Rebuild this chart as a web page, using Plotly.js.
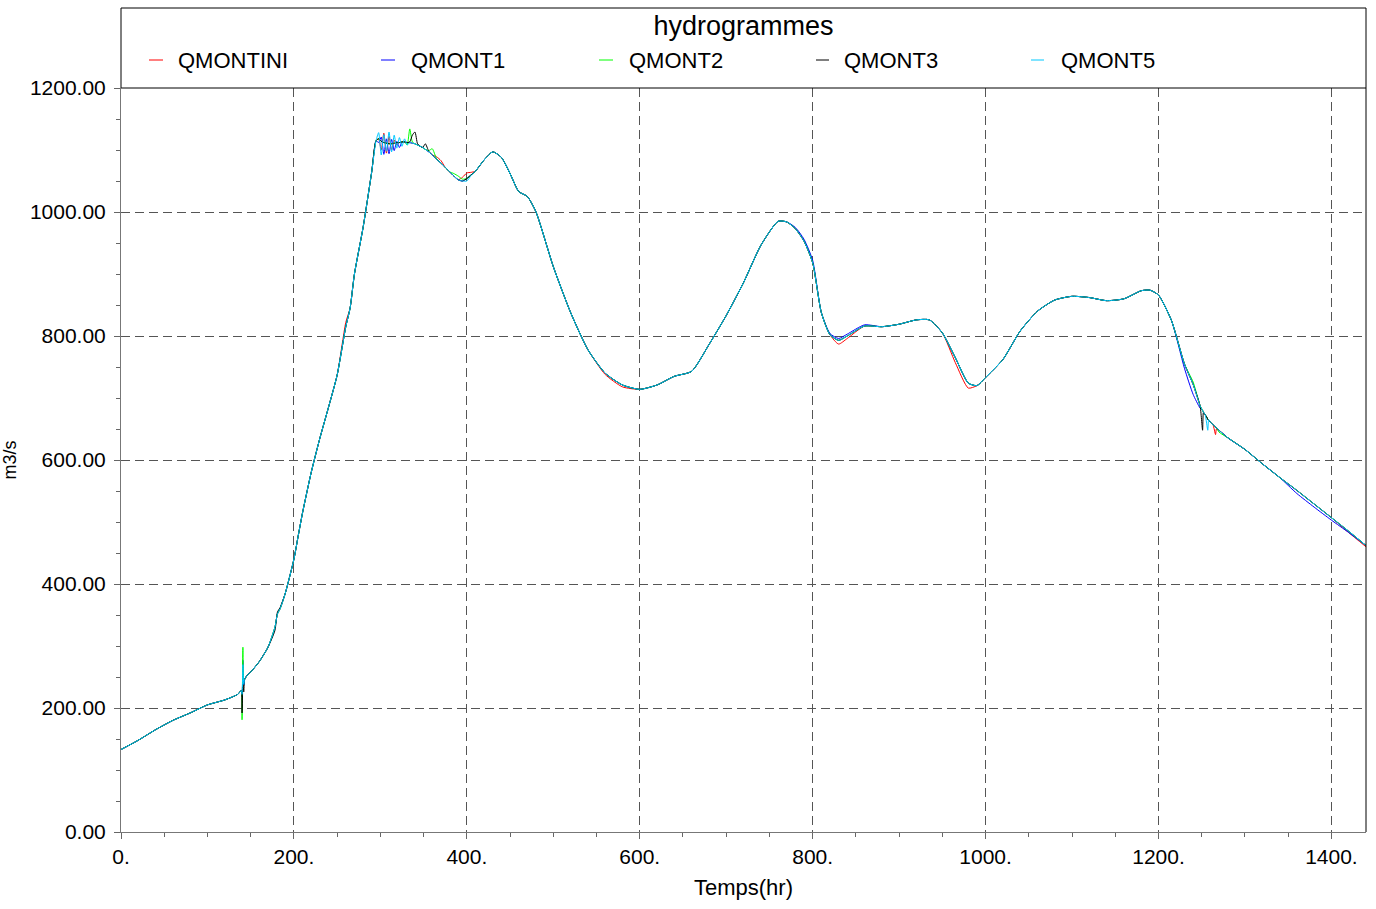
<!DOCTYPE html>
<html>
<head>
<meta charset="utf-8">
<script src="https://cdn.plot.ly/plotly-3.0.1.min.js"></script>
<style>html,body{margin:0;padding:0;background:#fff;}</style>
</head>
<body>
<div id="chart" style="width:1376px;height:909px;"></div>
<script>
// ---- data ----
var chartTitle = 'hydrogrammes';
var xTitle = 'Temps(hr)';
var yTitle = 'm3/s';
var seriesNames = ['QMONTINI', 'QMONT1', 'QMONT2', 'QMONT3', 'QMONT5'];
var seriesColors = ['#ff0000', '#0000ff', '#00ff00', '#000000', '#00c8ff'];

var hours = [0,20,40,60,80,100,120,135,139,140,
  141,142,143,146,150,160,170,178,181,184,
  190,200,205,210,220,230,240,250,260,265,
  270,280,290,295,298,301,304,307,310,313,
  316,319,322,325,328,331,334,337,340,343,
  346,349,352,356,360,365,370,375,380,385,
  390,395,400,405,410,420,430,440,450,460,
  470,480,500,520,540,560,580,600,620,640,
  660,680,700,720,740,760,770,780,790,800,
  810,820,830,840,860,880,900,920,935,950,
  965,980,990,1000,1020,1040,1060,1080,1100,1120,
  1140,1160,1180,1190,1200,1215,1230,1240,1248,1251,
  1252,1254,1257,1258,1260,1263,1266,1267,1270,1280,
  1300,1320,1340,1360,1380,1400,1420,1440];

var qmontini = [133,148,165,180,192,205,213,222,228,224,
  236,241,246,253,258,275,298,330,352,360,
  385,440,478,515,580,635,685,737,822,845,
  900,975,1065,1115,1118,1100,1127,1095,1122,1100,
  1116,1108,1112,1113,1113,1112,1112,1111,1110,1108,
  1106,1104,1101,1097,1092,1089,1083,1072,1065,1058,
  1052,1056,1063,1064,1066,1084,1097,1088,1062,1033,
  1025,1000,912,838,778,738,718,714,721,735,
  743,786,833,886,946,985,984,973,953,918,
  838,802,787,796,816,815,819,826,826,805,
  757,716,720,733,762,808,840,858,864,862,
  857,860,873,874,866,825,755,722,688,680,
  677,673,666,664,661,657,641,650,648,636,
  617,594,572,551,529,507,483,460];

var qmont1 = [133,148,165,180,192,205,213,222,228,226,
  277,237,246,253,258,275,298,330,352,360,
  385,440,478,515,580,635,685,737,815,845,
  900,975,1065,1115,1112,1121,1093,1118,1094,1117,
  1099,1114,1104,1113,1113,1112,1112,1111,1110,1108,
  1106,1104,1101,1097,1092,1085,1079,1072,1065,1058,
  1052,1050,1054,1060,1066,1084,1097,1088,1062,1033,
  1025,1000,912,838,778,740,721,714,721,735,
  743,786,833,886,946,985,984,975,956,922,
  838,804,796,803,818,815,819,826,826,805,
  765,724,720,733,762,808,840,858,864,862,
  857,860,873,874,866,825,748,706,684,680,
  677,673,666,664,661,657,653,652,648,636,
  617,594,572,546,524,503,483,462];

var qmont2 = [133,148,165,180,192,205,213,222,228,181,
  298,245,246,253,258,275,298,330,352,360,
  385,440,478,515,580,635,685,737,815,845,
  900,975,1065,1115,1118,1114,1112,1111,1110,1110,
  1111,1112,1112,1113,1113,1108,1134,1113,1110,1108,
  1106,1104,1101,1099,1102,1086,1079,1072,1065,1062,
  1058,1053,1054,1060,1066,1084,1097,1088,1062,1033,
  1025,1000,912,838,778,740,721,714,721,735,
  743,786,833,886,946,985,984,973,953,918,
  838,802,793,800,816,815,819,826,826,805,
  765,724,720,733,762,808,840,858,864,862,
  857,860,873,874,866,825,755,726,688,680,
  677,673,666,664,661,657,653,652,645,636,
  617,594,572,551,529,507,485,462];

var qmont3 = [133,148,165,180,192,205,213,222,228,192,
  240,226,246,253,258,275,298,325,355,362,
  385,440,478,515,580,635,685,737,815,845,
  900,975,1065,1115,1118,1114,1112,1111,1110,1110,
  1111,1112,1112,1113,1113,1112,1113,1124,1129,1110,
  1106,1104,1110,1098,1092,1085,1079,1072,1065,1058,
  1052,1050,1054,1060,1066,1084,1097,1088,1062,1033,
  1025,1000,912,838,778,740,721,714,721,735,
  743,786,833,886,946,985,984,973,953,918,
  838,802,793,800,816,815,819,826,826,805,
  765,724,720,733,762,808,840,858,864,862,
  857,860,873,874,866,825,755,722,688,648,
  677,673,666,664,661,657,653,652,648,636,
  617,594,572,551,529,507,485,462];

var qmont5 = [133,148,165,180,192,205,213,222,228,222,
  270,238,246,253,258,275,298,330,352,360,
  385,440,478,515,580,635,685,737,815,845,
  900,975,1065,1115,1128,1092,1125,1098,1129,1097,
  1124,1103,1120,1106,1118,1108,1112,1111,1110,1108,
  1106,1104,1101,1097,1092,1085,1079,1072,1065,1058,
  1052,1050,1050,1059,1066,1084,1097,1088,1062,1033,
  1025,1000,912,838,778,740,721,714,721,735,
  743,786,833,886,946,985,984,973,953,918,
  838,802,793,800,816,815,819,826,826,805,
  765,724,720,733,762,808,840,858,864,862,
  857,860,873,874,866,825,755,722,688,680,
  677,673,648,665,661,657,653,652,648,636,
  617,594,572,551,529,507,485,462];

var seriesValues = [qmontini, qmont1, qmont2, qmont3, qmont5];

// ---- figure ----
var traces = seriesNames.map(function (name, i) {
  return {
    type: 'scatter', mode: 'lines', name: name,
    x: hours, y: seriesValues[i],
    line: {color: seriesColors[i], width: 1, shape: 'spline', smoothing: 0.6},
    hoverinfo: 'x+y+name'
  };
});

var W = 1376, H = 909, L = 121, R = 10, T = 88, B = 77;
var pw = W - L - R, ph = H - T - B;
function px2x(p) { return (p - L) / pw; }
function py2y(p) { return (H - B - p) / ph; }

// hand-placed legend inside the header box
var legLine = [[149, 163], [381, 395], [599, 613], [816, 829], [1031, 1044]];
var legText = [176, 409, 627, 842, 1059];
var legY = 61;

var shapes = [
  {type: 'rect', xref: 'paper', yref: 'paper', x0: 0, x1: 1, y0: 1, y1: py2y(8),
   line: {color: '#000', width: 1}, fillcolor: 'rgba(0,0,0,0)', layer: 'above'},
  {type: 'line', xref: 'paper', yref: 'paper', x0: 1, x1: 1, y0: 0, y1: 1,
   line: {color: '#000', width: 1}, layer: 'above'}
];
var annotations = [];
seriesNames.forEach(function (name, i) {
  shapes.push({type: 'line', xref: 'paper', yref: 'paper',
    x0: px2x(legLine[i][0]), x1: px2x(legLine[i][1]), y0: py2y(legY - 1), y1: py2y(legY - 1),
    line: {color: seriesColors[i], width: 1}});
  annotations.push({xref: 'paper', yref: 'paper', x: px2x(legText[i]), y: py2y(legY),
    xanchor: 'left', yanchor: 'middle', showarrow: false, text: name,
    font: {size: 22, color: '#000'}});
});

var axisCommon = {
  showgrid: true, gridcolor: '#555', gridwidth: 1, griddash: '9px,5px',
  showline: true, linecolor: '#777', linewidth: 1, zeroline: false,
  ticks: 'outside', ticklen: 6, tickcolor: '#666', tickwidth: 1,
  tickfont: {size: 21, color: '#000'}
};

var layout = {
  width: W, height: H,
  margin: {l: L, r: R, t: T, b: B, pad: 0},
  paper_bgcolor: '#fff', plot_bgcolor: '#fff',
  font: {family: 'Liberation Sans, Arial, Helvetica, sans-serif', color: '#000'},
  showlegend: false,
  title: {text: chartTitle, font: {size: 27, color: '#000'},
    x: 0.5, xref: 'paper', xanchor: 'center', y: 1 - 26 / H, yref: 'container', yanchor: 'middle'},
  xaxis: Object.assign({}, axisCommon, {
    range: [0, 1440], tick0: 0, dtick: 200, tickformat: 'd', ticksuffix: '.',
    minor: {dtick: 50, tick0: 0, ticks: 'outside', ticklen: 4, tickcolor: '#666', showgrid: false},
    title: {text: xTitle, font: {size: 22, color: '#000'}, standoff: 12}
  }),
  yaxis: Object.assign({}, axisCommon, {
    range: [0, 1200], tick0: 0, dtick: 200, tickformat: '.2f', ticklabelstandoff: 4,
    minor: {dtick: 50, tick0: 0, ticks: 'outside', ticklen: 4, tickcolor: '#666', showgrid: false},
    title: {text: yTitle, font: {size: 18, color: '#000'}, standoff: 8}
  }),
  shapes: shapes,
  annotations: annotations
};

Plotly.newPlot('chart', traces, layout, {displayModeBar: false, responsive: false});
</script>
</body>
</html>
